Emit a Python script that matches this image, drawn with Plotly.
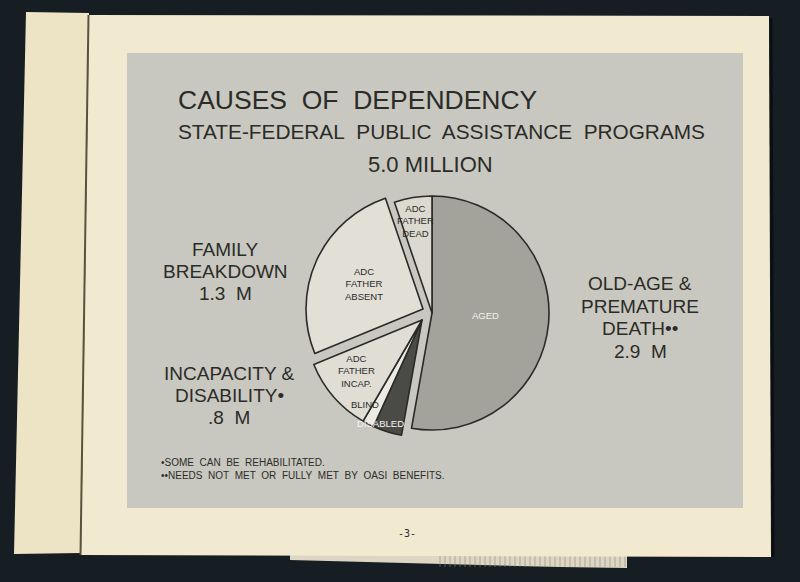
import math
import plotly.graph_objects as go

# ---------------- data ----------------
slice_names = ["AGED", "DISABLED", "BLIND", "ADC FATHER INCAP.", "ADC FATHER ABSENT", "ADC FATHER DEAD"]
slice_values = [2.64, 0.20, 0.08, 0.52, 1.30, 0.26]          # millions of recipients
slice_groups = ["old", "inc", "inc", "inc", "fam", "old"]
slice_text = ["AGED", "DISABLED", "BLIND", "ADC<br>FATHER<br>INCAP.",
              "ADC<br>FATHER<br>ABSENT", "ADC<br>FATHER<br>DEAD"]

group_keys = ["old", "fam", "inc"]
group_names = {
    "old": ["OLD-AGE &", "PREMATURE", "DEATH••"],
    "fam": ["FAMILY", "BREAKDOWN"],
    "inc": ["INCAPACITY &", "DISABILITY•"],
}

title_text = "CAUSES\u00a0 OF\u00a0 DEPENDENCY"
subtitle_text = "STATE-FEDERAL\u00a0 PUBLIC\u00a0 ASSISTANCE\u00a0 PROGRAMS"
footnotes = ["•SOME\u00a0 CAN\u00a0 BE\u00a0 REHABILITATED.",
             "••NEEDS\u00a0 NOT\u00a0 MET\u00a0 OR\u00a0 FULLY\u00a0 MET\u00a0 BY\u00a0 OASI\u00a0 BENEFITS."]
page_number = "-3-"

# ---------------- style ----------------
W, H = 800, 582
FONT = "Liberation Sans, Arial, sans-serif"
INK = "#2b2b28"
slice_colors = ["#a3a29b", "#4a4a47", "#eceae2", "#dfddd4", "#e1dfd6", "#dbd9d0"]
slice_text_colors = ["#f3f2ec", "#f5f4ef", INK, INK, INK, INK]
label_frac = [0.46, 0.95, 0.87, 0.71, 0.55, 0.80]     # radial position of slice labels
label_nudge = [-2.7, 4.4, 6.5, 2.9, -1.5, -1.0]        # angular nudge (deg)
PIE_CX, PIE_CY, PIE_R = 432, 313, 117                  # px
group_shift = {"old": (0, 0), "fam": (-9, -4), "inc": (-10, 7)}   # px explosion
group_label_pos = {
    "old": (640, [283, 306, 328, 351]),
    "fam": (225, [249, 271, 293]),
    "inc": (229, [373, 395, 417]),
}


def px(x):
    return x / W


def py(y):
    return 1 - y / H


fig = go.Figure()

# one pie trace per group so each group explodes as a block
for g in group_keys:
    sx, sy = group_shift[g]
    cx, cy = PIE_CX + sx, PIE_CY + sy
    colors = [c if grp == g else "rgba(0,0,0,0)" for c, grp in zip(slice_colors, slice_groups)]
    lw = [1.6 if grp == g else 0 for grp in slice_groups]
    fig.add_trace(go.Pie(
        labels=slice_names, values=slice_values, sort=False,
        direction="clockwise", rotation=0, textinfo="none",
        marker=dict(colors=colors, line=dict(color="#2a2a28", width=lw)),
        domain=dict(x=[px(cx - PIE_R), px(cx + PIE_R)], y=[py(cy + PIE_R), py(cy - PIE_R)]),
        showlegend=False, hoverinfo="label+value",
    ))

annotations = []

# slice labels, positioned from the cumulative angles of the data
total = sum(slice_values)
cum = 0.0
for i, v in enumerate(slice_values):
    a0 = cum / total * 360
    cum += v
    a1 = cum / total * 360
    ang = math.radians((a0 + a1) / 2 + label_nudge[i])
    sx, sy = group_shift[slice_groups[i]]
    r = label_frac[i] * PIE_R
    x = PIE_CX + sx + r * math.sin(ang)
    y = PIE_CY + sy - r * math.cos(ang)
    annotations.append(dict(x=px(x), y=py(y), xref="paper", yref="paper",
                            text=slice_text[i], showarrow=False,
                            font=dict(family=FONT, size=9.5, color=slice_text_colors[i]),
                            xanchor="center", yanchor="middle", align="center"))

# group labels with totals computed from the data
for g in group_keys:
    gv = sum(v for v, grp in zip(slice_values, slice_groups) if grp == g)
    s = f"{gv:.1f}"
    if s.startswith("0"):
        s = s[1:]
    lines = group_names[g] + [s + "\u00a0 M"]
    gx, ys = group_label_pos[g]
    for t, y in zip(lines, ys):
        annotations.append(dict(x=px(gx), y=py(y), xref="paper", yref="paper", text=t,
                                showarrow=False, font=dict(family=FONT, size=19, color=INK),
                                xanchor="center", yanchor="middle"))

# titles
annotations.append(dict(x=px(176), y=py(100), xref="paper", yref="paper", text=title_text,
                        showarrow=False, xanchor="left", yanchor="middle",
                        font=dict(family=FONT, size=26.5, color=INK)))
annotations.append(dict(x=px(176), y=py(131), xref="paper", yref="paper", text=subtitle_text,
                        showarrow=False, xanchor="left", yanchor="middle",
                        font=dict(family=FONT, size=20.8, color=INK)))
annotations.append(dict(x=px(431), y=py(164), xref="paper", yref="paper",
                        text=f"{total:.1f}\u00a0MILLION",
                        showarrow=False, xanchor="center", yanchor="middle",
                        font=dict(family=FONT, size=22, color=INK)))
# footnotes
for t, y in zip(footnotes, [462, 475]):
    annotations.append(dict(x=px(159), y=py(y), xref="paper", yref="paper", text=t,
                            showarrow=False, xanchor="left", yanchor="middle",
                            font=dict(family=FONT, size=10, color=INK)))
annotations.append(dict(x=px(407), y=py(533), xref="paper", yref="paper", text=page_number,
                        showarrow=False, xanchor="center", yanchor="middle",
                        font=dict(family="DejaVu Sans Mono, monospace", size=10, color=INK)))

# page / photo background
def rect(x0, y0, x1, y1, fill, line=None):
    return dict(type="rect", xref="paper", yref="paper", x0=px(x0), x1=px(x1),
                y0=py(y1), y1=py(y0), fillcolor=fill,
                line=dict(width=0) if line is None else line, layer="below")


def poly(pts, fill, lw=0, lc=None):
    p = "M " + " L ".join(f"{px(x)},{py(y)}" for x, y in pts) + " Z"
    return dict(type="path", xref="paper", yref="paper", path=p, fillcolor=fill,
                line=dict(width=lw, color=lc or fill), layer="below")


grid_lines = " ".join(f"M {px(x)},{py(556)} L {px(x)},{py(567)}" for x in range(440, 626, 5))
shapes = [
    poly([(290, 553), (627, 553), (627, 568), (560, 567), (290, 560)], "#ddd6c3"),
    dict(type="path", xref="paper", yref="paper", path=grid_lines,
         line=dict(width=0.6, color="#8d8878"), layer="below"),
    poly([(26, 12), (89, 13), (81, 553), (14, 554)], "#ede4c6"),
    poly([(89, 15), (769, 16), (771, 557), (81, 555)], "#f2ead0"),
    dict(type="line", xref="paper", yref="paper", x0=px(88.5), y0=py(15), x1=px(80.5), y1=py(555),
         line=dict(width=2, color="#59523f"), layer="below"),
    dict(type="line", xref="paper", yref="paper", x0=px(771), y0=py(18), x1=px(773), y1=py(557),
         line=dict(width=3, color="#0c0f12"), layer="below"),
    rect(127, 53, 743, 508, "#c9c8c0"),
]

fig.update_layout(
    width=W, height=H, margin=dict(l=0, r=0, t=0, b=0),
    paper_bgcolor="#161e24", plot_bgcolor="rgba(0,0,0,0)",
    annotations=annotations, shapes=shapes, showlegend=False,
)

fig.write_html(
    "out.html",
    config={"displayModeBar": False},
    post_script="document.body.style.margin='0';document.body.style.padding='0';"
                "document.body.style.background='#161e24';",
)
